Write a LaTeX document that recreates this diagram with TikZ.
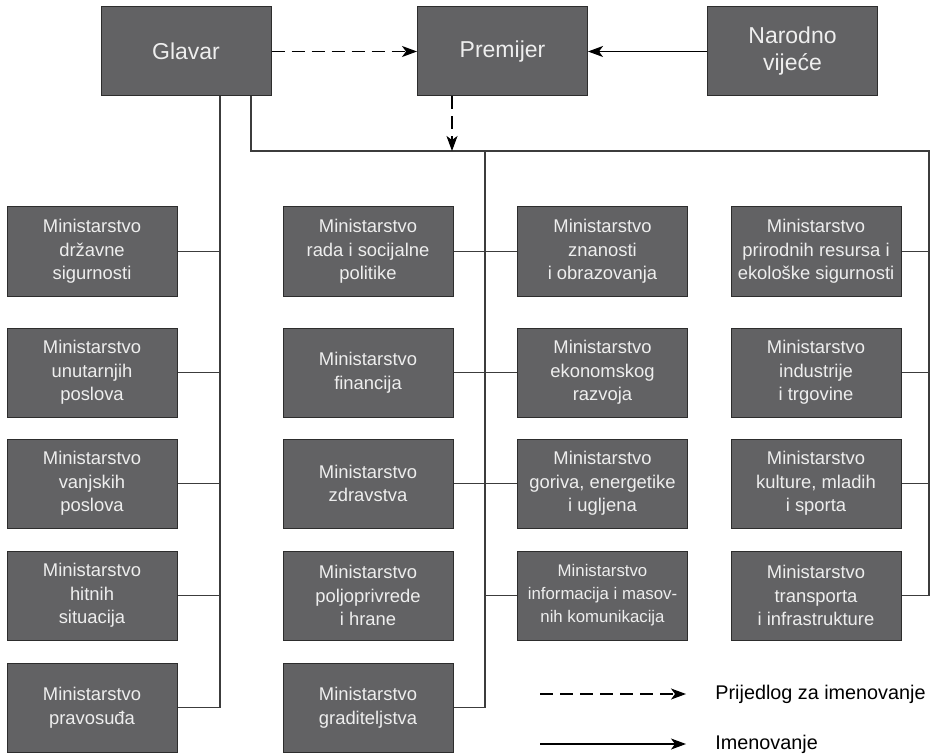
\documentclass[tikz,border=0pt]{standalone}
\usepackage{fontspec}
\setmainfont{Liberation Sans}
\usetikzlibrary{arrows.meta}
\definecolor{boxgray}{RGB}{98,98,100}
\definecolor{edgegray}{RGB}{45,45,45}
\definecolor{linegray}{RGB}{60,60,60}
\definecolor{textwhite}{RGB}{238,238,238}

\begin{document}
\begin{tikzpicture}[x=0.5pt, y=-0.5pt,
    box/.style={draw=edgegray, line width=0.5pt, fill=boxgray, text=textwhite,
        minimum width=85pt, minimum height=44.5pt, inner sep=0pt, align=center},
    topbox/.style={box, font=\fontsize{11.5}{13.5}\selectfont},
    minbox/.style={box, font=\fontsize{9.2}{11.8}\selectfont},
    tree/.style={draw=linegray, line width=0.6pt},
    propose/.style={draw=black, line width=0.6pt, dash pattern=on 6.5pt off 3.5pt,
        -{Stealth[length=7.5pt, width=5.5pt, inset=2pt]}},
    appoint/.style={draw=black, line width=0.6pt,
        -{Stealth[length=7.5pt, width=5.5pt, inset=2pt]}}]
    \useasboundingbox (0,0) rectangle (930,754);

    \coordinate (V) at (251, 151);
    \coordinate (P) at (452, 151);
    \coordinate (R) at (929, 151);
    \coordinate (L) at (220, 707.5);
    \coordinate (M) at (485, 707.5);
    \coordinate (Rb) at (929, 595.5);

    % 方框
    \node[topbox] (glavar) at (186, 51.5) {Glavar};
    \node[topbox] (premijer) at (502.5, 51.5) {Premijer};
    \node[topbox] (vijece) at (792.5, 51.5) {Narodno\\vijeće};

    \node[minbox] (m1) at (92, 251.5) {Ministarstvo\\državne\\sigurnosti};
    \node[minbox] (m2) at (92, 372.5) {Ministarstvo\\unutarnjih\\poslova};
    \node[minbox] (m3) at (92, 483.5) {Ministarstvo\\vanjskih\\poslova};
    \node[minbox] (m4) at (92, 595.5) {Ministarstvo\\hitnih\\situacija};
    \node[minbox] (m5) at (92, 707.5) {Ministarstvo\\pravosuđa};

    \node[minbox] (m6) at (368, 251.5) {Ministarstvo\\rada i socijalne\\politike};
    \node[minbox] (m7) at (368, 372.5) {Ministarstvo\\financija};
    \node[minbox] (m8) at (368, 483.5) {Ministarstvo\\zdravstva};
    \node[minbox] (m9) at (368, 595.5) {Ministarstvo\\poljoprivrede\\i hrane};
    \node[minbox] (m10) at (368, 707.5) {Ministarstvo\\graditeljstva};

    \node[minbox] (m11) at (602.5, 251.5) {Ministarstvo\\znanosti\\i obrazovanja};
    \node[minbox] (m12) at (602.5, 372.5) {Ministarstvo\\ekonomskog\\razvoja};
    \node[minbox] (m13) at (602.5, 483.5) {Ministarstvo\\goriva, energetike\\i ugljena};
    \node[minbox, font=\fontsize{8.4}{11.5}\selectfont] (m14) at (602.5, 595.5)
        {Ministarstvo\\informacija i masov-\\nih komunikacija};

    \node[minbox] (m15) at (816, 251.5) {Ministarstvo\\prirodnih resursa i\\ekološke sigurnosti};
    \node[minbox] (m16) at (816, 372.5) {Ministarstvo\\industrije\\i trgovine};
    \node[minbox] (m17) at (816, 483.5) {Ministarstvo\\kulture, mladih\\i sporta};
    \node[minbox] (m18) at (816, 595.5) {Ministarstvo\\transporta\\i infrastrukture};

    % 画线
    \draw[tree] (glavar.south -| L) -- (L);
    \draw[tree] (glavar.south -| V) -- (V) -- (R) -- (Rb);
    \draw[tree] (V -| M) -- (M);
    \foreach \m in {m1, m2, m3, m4, m5}
        \draw[tree] (\m.east) -- (\m.east -| L);
    \draw[tree] (m6.east) -- (m11.west);
    \draw[tree] (m7.east) -- (m12.west);
    \draw[tree] (m8.east) -- (m13.west);
    \draw[tree] (m14.west -| M) -- (m14.west);
    \draw[tree] (m10.east) -- (M);
    \foreach \m in {m15, m16, m17, m18}
        \draw[tree] (\m.east) -- (\m.east -| R);

    \draw[propose] (glavar) -- (premijer);
    \draw[appoint] (vijece) -- (premijer);
    \draw[propose] (premijer.south -| P) -- (P);

    % 图例
    \coordinate (d1) at (540, 694);
    \coordinate (d2) at (686, 694);
    \coordinate (s1) at (540, 744);
    \coordinate (s2) at (686, 744);
    \node[anchor=west, font=\fontsize{9.9}{12}\selectfont, inner sep=0pt] (lprop) at (715, 694) {Prijedlog za imenovanje};
    \node[anchor=west, font=\fontsize{9.9}{12}\selectfont, inner sep=0pt] (lapp) at (715, 744) {Imenovanje};
    \draw[propose] (d1) -- (d2);
    \draw[appoint] (s1) -- (s2);
\end{tikzpicture}
\end{document}
